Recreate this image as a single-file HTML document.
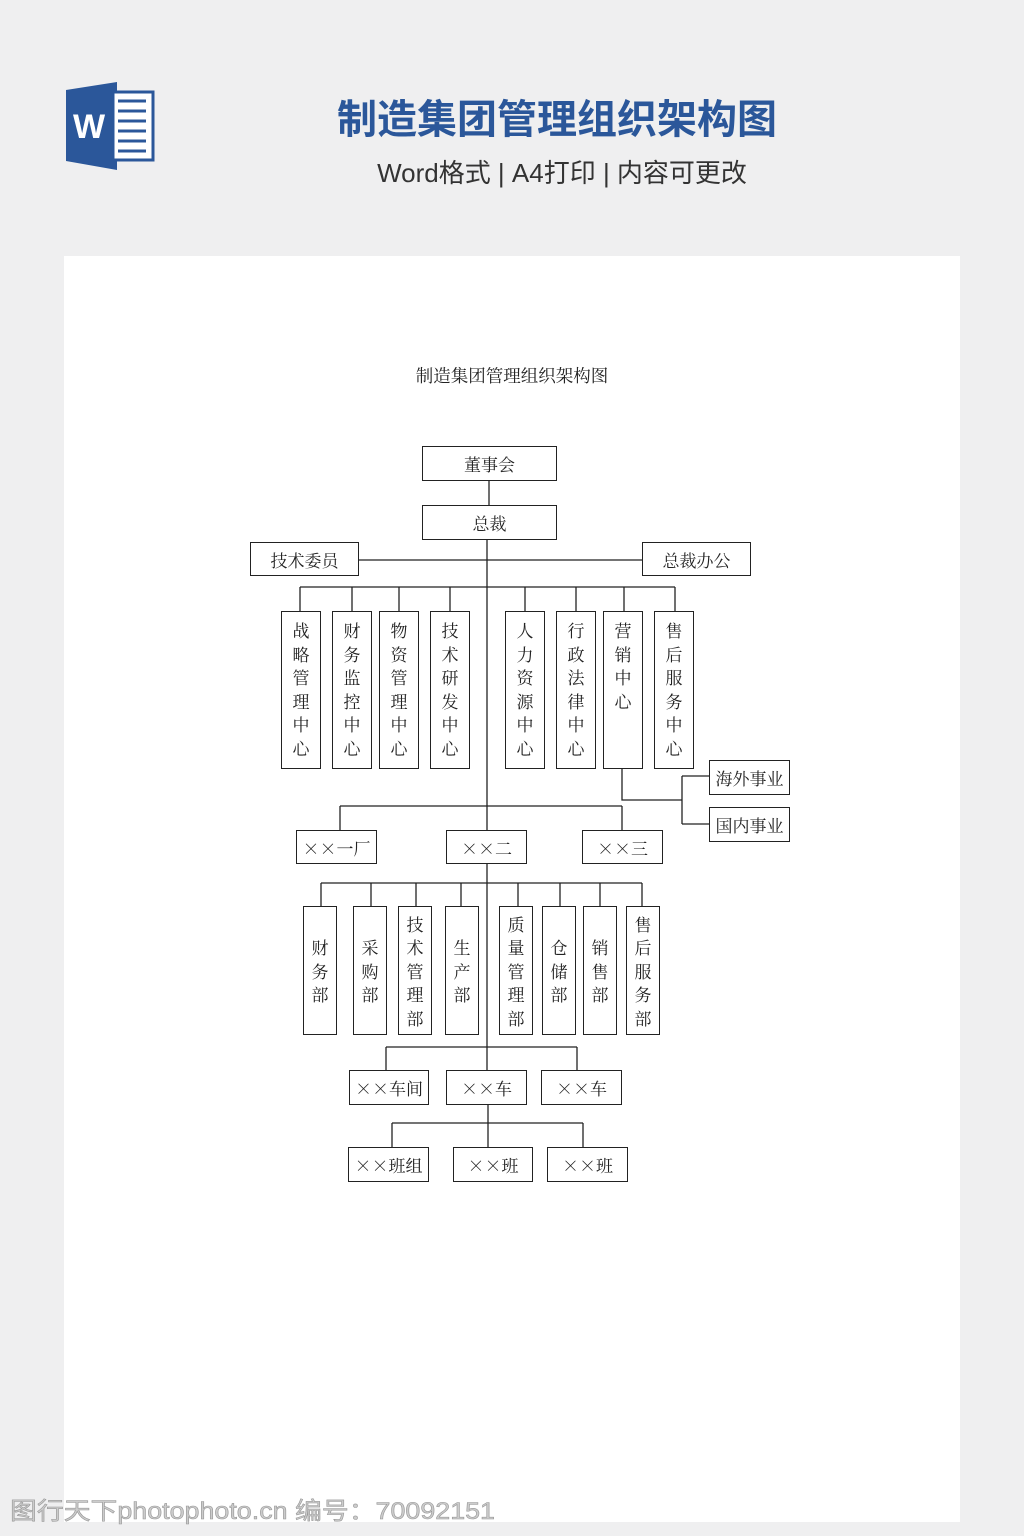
<!DOCTYPE html>
<html><head><meta charset="utf-8"><style>
body{margin:0;width:1024px;height:1536px;background:#efeff0;position:relative;overflow:hidden;font-family:"Noto Serif CJK SC","Liberation Serif",serif}
.page{position:absolute;left:64px;top:256px;width:896px;height:1266px;background:#fff}
.b{position:absolute;border:1.3px solid #222;box-sizing:border-box;background:#fff;display:flex;align-items:center;justify-content:center;font-size:17px;color:#222;white-space:nowrap;line-height:1}
.v{align-items:flex-start;padding-top:6px}
.v span,.c span{display:block;width:18px;line-height:23.5px;text-align:center;white-space:normal;word-break:break-all}
svg{position:absolute;left:0;top:0}
</style></head><body>
<div class="page"></div>
<svg width="1024" height="1536">
<polygon points="66,90 117,82 117,170 66,161" fill="#2b579a"/>
<rect x="113" y="92" width="40" height="68" fill="#fff" stroke="#2b579a" stroke-width="3"/>
<g stroke="#2b579a" stroke-width="3"><line x1="118" y1="101" x2="146" y2="101"/><line x1="118" y1="111" x2="146" y2="111"/><line x1="118" y1="121" x2="146" y2="121"/><line x1="118" y1="131" x2="146" y2="131"/><line x1="118" y1="141" x2="146" y2="141"/><line x1="118" y1="151" x2="146" y2="151"/></g>
<text x="89" y="138" font-family="Liberation Sans" font-weight="bold" font-size="34" fill="#fff" text-anchor="middle">W</text>
<text x="557" y="133" font-family="Liberation Sans,Noto Sans CJK SC,sans-serif" font-weight="bold" font-size="40" fill="#2b579a" text-anchor="middle">制造集团管理组织架构图</text>
<text x="562" y="182" font-family="Liberation Sans,Noto Sans CJK SC,sans-serif" font-size="26" fill="#333" text-anchor="middle">Word格式 | A4打印 | 内容可更改</text>
<text x="512" y="382" font-family="Noto Serif CJK SC,serif" font-size="17.5" fill="#222" text-anchor="middle">制造集团管理组织架构图</text>
<g stroke="#222" stroke-width="1.3" fill="none">
<line x1="489" y1="481" x2="489" y2="505"/>
<line x1="487" y1="540" x2="487" y2="1070"/>
<line x1="359" y1="560" x2="642" y2="560"/>
<line x1="300" y1="587" x2="675" y2="587"/>
<line x1="300" y1="587" x2="300" y2="611"/><line x1="352" y1="587" x2="352" y2="611"/><line x1="399" y1="587" x2="399" y2="611"/><line x1="450" y1="587" x2="450" y2="611"/><line x1="525" y1="587" x2="525" y2="611"/><line x1="576" y1="587" x2="576" y2="611"/><line x1="624" y1="587" x2="624" y2="611"/><line x1="675" y1="587" x2="675" y2="611"/>
<polyline points="622,769 622,800 682,800"/>
<line x1="682" y1="776" x2="682" y2="824"/>
<line x1="682" y1="776" x2="709" y2="776"/><line x1="682" y1="824" x2="709" y2="824"/>
<line x1="340" y1="806" x2="622" y2="806"/>
<line x1="340" y1="806" x2="340" y2="830"/><line x1="622" y1="806" x2="622" y2="830"/>
<line x1="321" y1="883" x2="642" y2="883"/>
<line x1="321" y1="883" x2="321" y2="906"/><line x1="371" y1="883" x2="371" y2="906"/><line x1="416" y1="883" x2="416" y2="906"/><line x1="461" y1="883" x2="461" y2="906"/><line x1="518" y1="883" x2="518" y2="906"/><line x1="560" y1="883" x2="560" y2="906"/><line x1="600" y1="883" x2="600" y2="906"/><line x1="642" y1="883" x2="642" y2="906"/>
<line x1="386" y1="1047" x2="577" y2="1047"/>
<line x1="386" y1="1047" x2="386" y2="1070"/><line x1="577" y1="1047" x2="577" y2="1070"/>
<line x1="488" y1="1105" x2="488" y2="1147"/>
<line x1="392" y1="1123" x2="583" y2="1123"/>
<line x1="392" y1="1123" x2="392" y2="1147"/><line x1="583" y1="1123" x2="583" y2="1147"/>
</g>
<text x="10" y="1519" font-family="Liberation Sans,Noto Sans CJK SC,sans-serif" font-size="24" textLength="485" lengthAdjust="spacingAndGlyphs" fill="#ccc" stroke="#999" stroke-width="0.6">图行天下photophoto.cn 编号：70092151</text>
</svg>
<div class="b" style="left:422px;top:446px;width:135px;height:35px">董事会</div>
<div class="b" style="left:422px;top:505px;width:135px;height:35px">总裁</div>
<div class="b" style="left:250px;top:542px;width:109px;height:34px">技术委员</div>
<div class="b" style="left:642px;top:542px;width:109px;height:34px">总裁办公</div>
<div class="b v" style="left:281px;top:611px;width:40px;height:158px"><span>战略管理中心</span></div>
<div class="b v" style="left:332px;top:611px;width:40px;height:158px"><span>财务监控中心</span></div>
<div class="b v" style="left:379px;top:611px;width:40px;height:158px"><span>物资管理中心</span></div>
<div class="b v" style="left:430px;top:611px;width:40px;height:158px"><span>技术研发中心</span></div>
<div class="b v" style="left:505px;top:611px;width:40px;height:158px"><span>人力资源中心</span></div>
<div class="b v" style="left:556px;top:611px;width:40px;height:158px"><span>行政法律中心</span></div>
<div class="b v" style="left:603px;top:611px;width:40px;height:158px"><span>营销中心</span></div>
<div class="b v" style="left:654px;top:611px;width:40px;height:158px"><span>售后服务中心</span></div>
<div class="b" style="left:709px;top:760px;width:81px;height:35px">海外事业</div>
<div class="b" style="left:709px;top:807px;width:81px;height:35px">国内事业</div>
<div class="b" style="left:296px;top:830px;width:81px;height:34px">××一厂</div>
<div class="b" style="left:446px;top:830px;width:81px;height:34px">××二</div>
<div class="b" style="left:582px;top:830px;width:81px;height:34px">××三</div>
<div class="b c" style="left:303px;top:906px;width:34px;height:129px"><span>财务部</span></div>
<div class="b c" style="left:353px;top:906px;width:34px;height:129px"><span>采购部</span></div>
<div class="b c" style="left:398px;top:906px;width:34px;height:129px"><span>技术管理部</span></div>
<div class="b c" style="left:445px;top:906px;width:34px;height:129px"><span>生产部</span></div>
<div class="b c" style="left:499px;top:906px;width:34px;height:129px"><span>质量管理部</span></div>
<div class="b c" style="left:542px;top:906px;width:34px;height:129px"><span>仓储部</span></div>
<div class="b c" style="left:583px;top:906px;width:34px;height:129px"><span>销售部</span></div>
<div class="b c" style="left:626px;top:906px;width:34px;height:129px"><span>售后服务部</span></div>
<div class="b" style="left:349px;top:1070px;width:80px;height:35px">××车间</div>
<div class="b" style="left:446px;top:1070px;width:81px;height:35px">××车</div>
<div class="b" style="left:541px;top:1070px;width:81px;height:35px">××车</div>
<div class="b" style="left:348px;top:1147px;width:81px;height:35px">××班组</div>
<div class="b" style="left:453px;top:1147px;width:80px;height:35px">××班</div>
<div class="b" style="left:547px;top:1147px;width:81px;height:35px">××班</div>
</body></html>
